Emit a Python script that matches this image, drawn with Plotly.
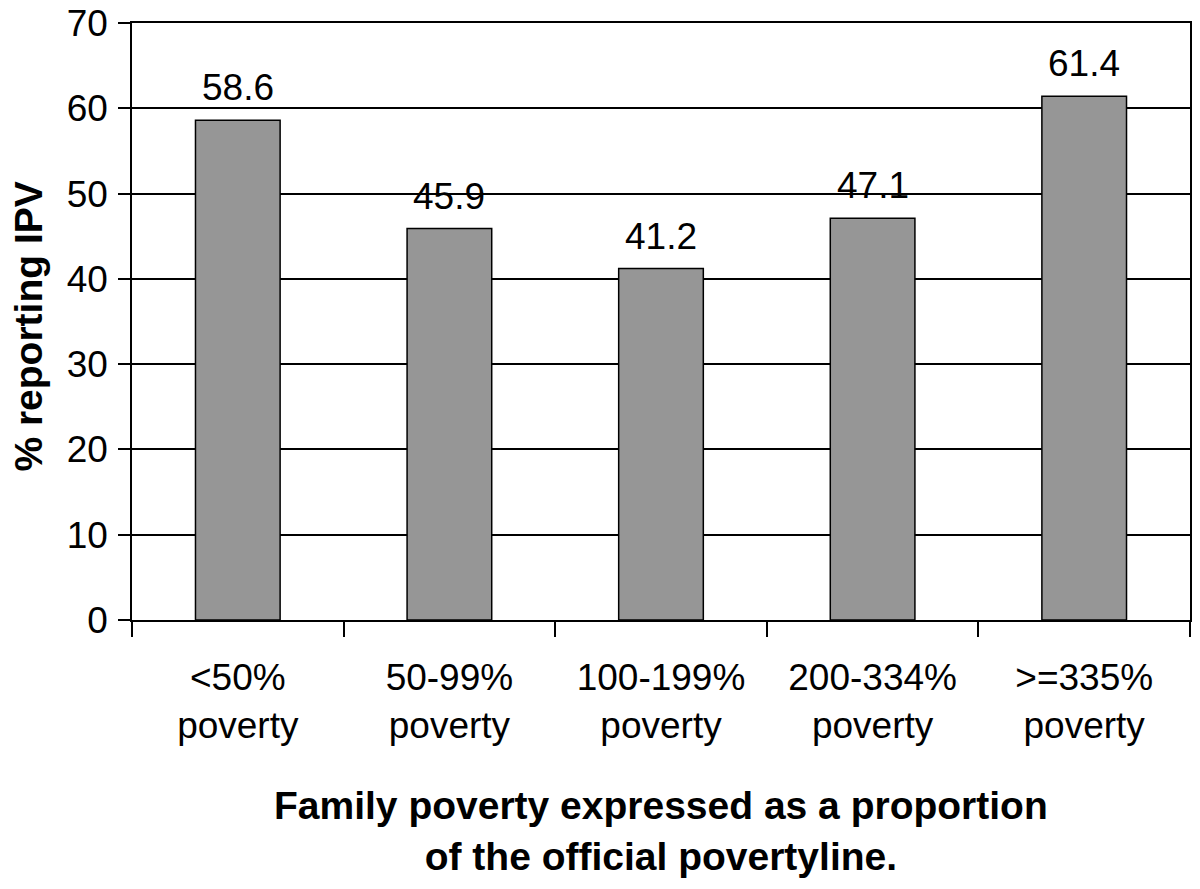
import plotly.graph_objects as go

categories = ["<50%<br>poverty", "50-99%<br>poverty", "100-199%<br>poverty", "200-334%<br>poverty", ">=335%<br>poverty"]
values = [58.6, 45.9, 41.2, 47.1, 61.4]
y_ticks = [0, 10, 20, 30, 40, 50, 60, 70]
x_title = "<b>Family poverty expressed as a proportion<br>of the official povertyline.</b>"
y_title = "<b>% reporting IPV</b>"

FONT = "Liberation Sans, Arial, sans-serif"
FS = 37

fig = go.Figure()
fig.add_trace(go.Bar(
    x=categories,
    y=values,
    marker=dict(color="#969696", line=dict(color="black", width=1.5)),
    width=0.4,
))

# value labels above bars
for c, v in zip(categories, values):
    fig.add_annotation(x=c, y=v, text=f"{v:.1f}", showarrow=False,
                       xanchor="center", yanchor="bottom", yshift=10,
                       font=dict(family=FONT, size=FS, color="black"))

# axis titles
fig.add_annotation(xref="paper", yref="paper", x=0.5, y=-0.272, text=x_title,
                   showarrow=False, xanchor="center", yanchor="top",
                   font=dict(family=FONT, size=39, color="black"))
fig.add_annotation(xref="paper", yref="paper", x=-0.098, y=0.492, text=y_title,
                   showarrow=False, xanchor="center", yanchor="middle", textangle=-90,
                   font=dict(family=FONT, size=39, color="black"))

fig.update_layout(
    width=1200, height=889,
    margin=dict(l=124, r=18, t=15, b=277),
    paper_bgcolor="white", plot_bgcolor="white",
    showlegend=False,
    font=dict(family=FONT, size=FS, color="black"),
    bargap=0.6,
)

fig.update_xaxes(
    type="category",
    automargin=False,
    tickson="boundaries",
    ticks="outside", ticklen=15, tickwidth=1.5, tickcolor="black",
    showline=True, linecolor="black", linewidth=1.5, mirror=True,
    showgrid=False,
    tickfont=dict(family=FONT, size=FS, color="black"),
    ticklabelstandoff=24,
)

fig.update_yaxes(
    range=[0, 70],
    automargin=False,
    tickvals=y_ticks,
    ticks="outside", ticklen=12, tickwidth=1.5, tickcolor="black",
    showline=True, linecolor="black", linewidth=1.5, mirror=True,
    showgrid=True, gridcolor="black", gridwidth=1.5,
    zeroline=False,
    tickfont=dict(family=FONT, size=FS, color="black"),
    ticklabelstandoff=3,
    ticklabeloverflow="allow",
)

fig.write_html("out.html")
